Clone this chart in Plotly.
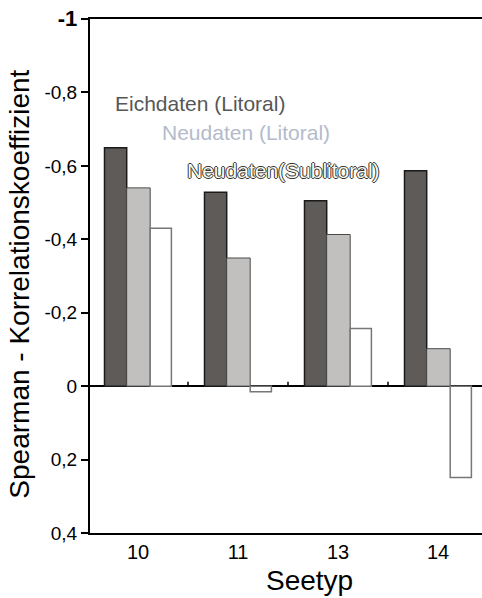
import plotly.graph_objects as go

categories = ["10", "11", "13", "14"]
eichdaten_litoral = [-0.649, -0.528, -0.505, -0.587]
neudaten_litoral = [-0.540, -0.349, -0.413, -0.102]
neudaten_sublitoral = [-0.430, 0.015, -0.157, 0.249]

y_tickvals = [-1, -0.8, -0.6, -0.4, -0.2, 0, 0.2, 0.4]
y_ticktext = ["<span style='font-size:22px'><b>-1</b></span>", "-0,8", "-0,6", "-0,4",
              "-0,2", "0", "0,2", "0,4"]

FONT = "Liberation Sans, Arial"

fig = go.Figure()
fig.add_trace(go.Bar(x=categories, y=eichdaten_litoral, name="Eichdaten (Litoral)",
                     offset=-0.335, width=0.222,
                     marker=dict(color="#5f5b59", line=dict(color="#1a1a1a", width=1.5))))
fig.add_trace(go.Bar(x=categories, y=neudaten_litoral, name="Neudaten (Litoral)",
                     offset=-0.113, width=0.235,
                     marker=dict(color="#c1c0be", line=dict(color="#4a4a4a", width=1))))
fig.add_trace(go.Bar(x=categories, y=neudaten_sublitoral, name="Neudaten(Sublitoral)",
                     offset=0.122, width=0.212,
                     marker=dict(color="#ffffff", line=dict(color="#777777", width=1.5))))

# small category-boundary ticks on the zero line
shapes = []
for i in range(len(categories) - 1):
    shapes.append(dict(type="line", xref="x", yref="y", x0=i + 0.5, x1=i + 0.5,
                       y0=0, y1=-0.012, line=dict(color="black", width=1.5)))

annotations = [
    dict(text="Eichdaten (Litoral)", xref="x", yref="y", x=-0.25, y=-0.769,
         xanchor="left", yanchor="middle", showarrow=False,
         font=dict(family=FONT, size=21, color="#575757")),
    dict(text="Neudaten (Litoral)", xref="x", yref="y", x=0.22, y=-0.690,
         xanchor="left", yanchor="middle", showarrow=False,
         font=dict(family=FONT, size=21, color="#b3bbca")),
    dict(text="Neudaten(Sublitoral)", xref="x", yref="y", x=0.47, y=-0.587,
         xanchor="left", yanchor="middle", showarrow=False,
         font=dict(family=FONT, size=21, color="#fafaec",
                   shadow="1px 0 0 #333, -1px 0 0 #333, 0 1px 0 #333, 0 -1px 0 #333")),
    dict(text="Spearman - Korrelationskoeffizient", xref="paper", yref="paper",
         x=-0.18, y=0.484, xanchor="center", yanchor="middle", textangle=-90,
         showarrow=False, font=dict(family=FONT, size=28, color="black")),
    dict(text="Seetyp", xref="paper", yref="paper", x=0.559, y=-0.093,
         xanchor="center", yanchor="middle", showarrow=False,
         font=dict(family=FONT, size=28, color="black")),
]

fig.update_layout(
    width=482, height=598,
    margin=dict(l=90, r=0, t=19, b=65),
    paper_bgcolor="white", plot_bgcolor="white",
    barmode="overlay",
    showlegend=False,
    shapes=shapes,
    annotations=annotations,
    xaxis=dict(type="category", range=[-0.48, 3.44], showline=True, mirror=True,
               linecolor="black", linewidth=2, ticks="", showgrid=False,
               zeroline=False, tickfont=dict(family=FONT, size=20, color="black")),
    yaxis=dict(range=[0.4, -1], tickvals=y_tickvals, ticktext=y_ticktext,
               showline=True, linecolor="black", linewidth=2, ticks="outside",
               ticklen=7, tickwidth=1.5, tickcolor="black", showgrid=False,
               zeroline=True, zerolinecolor="black", zerolinewidth=1.5,
               tickfont=dict(family=FONT, size=19, color="black")),
)

fig.write_html("out.html")
